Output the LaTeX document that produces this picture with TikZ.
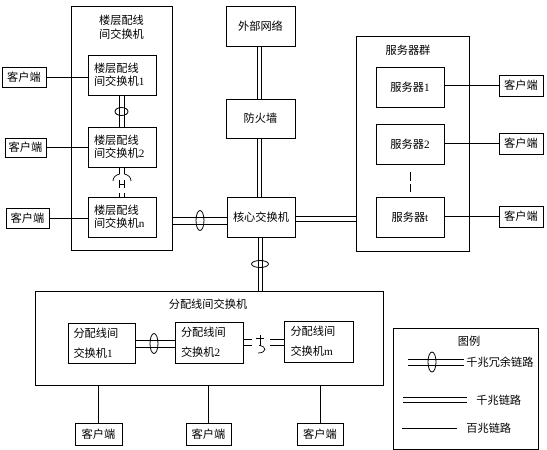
\documentclass[tikz,border=0pt]{standalone}
\usepackage{fontspec}
\setmainfont{Liberation Serif}
\newfontfamily\cjk{Noto Sans CJK SC}
\newcommand\lat[1]{\textrm{#1}}
\usetikzlibrary{shapes.geometric}
\newcommand\vdbl[3]{\draw ([xshift=-#3]#1) -- ([xshift=-#3]#2); \draw ([xshift=#3]#1) -- ([xshift=#3]#2);}
\newcommand\hdbl[3]{\draw ([yshift=-#3]#1) -- ([yshift=-#3]#2); \draw ([yshift=#3]#1) -- ([yshift=#3]#2);}
\tikzset{
  every path/.style={line width=0.7pt},
  box/.style={draw, line width=0.7pt, inner sep=0pt, font=\cjk\fontsize{11.2}{13}\selectfont},
  twoline/.style={box, align=left, text width=56pt},
  client/.style={box, minimum width=44pt, minimum height=20pt},
  label/.style={inner sep=0pt, font=\cjk\fontsize{11.2}{14}\selectfont, align=center},
  ell/.style={draw, ellipse, inner sep=0pt, line width=0.8pt},
}
\begin{document}
\begin{tikzpicture}[x=1pt,y=-1pt]
\useasboundingbox (0,0) rectangle (547,450);
% floor group
\node[box, minimum width=101pt, minimum height=244pt] (floor) at (121.5,128) {};
\node[label] (floort) at (121.5,27) {楼层配线\\间交换机};
\node[twoline, minimum width=68pt, minimum height=40pt] (f1) at (122,75) {楼层配线\\间交换机\lat{1}};
\node[twoline, minimum width=68pt, minimum height=40pt] (f2) at (122,147) {楼层配线\\间交换机\lat{2}};
\node[twoline, minimum width=68pt, minimum height=40pt] (fn) at (122,217) {楼层配线\\间交换机\lat{n}};
\node[client] (c1) at (24,77) {客户端};
\node[client, minimum width=41pt, minimum height=19pt] (c2) at (25.5,147.5) {客户端};
\node[client, minimum width=43pt] (c3) at (27.5,218) {客户端};
% center column
\node[box, minimum width=69pt, minimum height=40pt] (ext) at (260.5,26) {外部网络};
\node[box, minimum width=69pt, minimum height=39pt] (fw) at (260.5,118.5) {防火墙};
\node[box, minimum width=68pt, minimum height=40pt] (core) at (261,217) {核心交换机};
% server group
\node[box, minimum width=113pt, minimum height=215pt] (sg) at (412.5,143.5) {};
\node[label] (sgt) at (408,50) {服务器群};
\node[box, minimum width=68pt, minimum height=40pt] (s1) at (410,87) {服务器\lat{1}};
\node[box, minimum width=68pt, minimum height=40pt] (s2) at (410,144) {服务器\lat{2}};
\node[box, minimum width=68pt, minimum height=40pt] (st) at (410,217) {服务器\lat{t}};
\node[client, minimum height=21pt] (r1) at (521,85.5) {客户端};
\node[client, minimum height=21pt] (r2) at (521,143.5) {客户端};
\node[client, minimum height=21pt] (r3) at (521,216.5) {客户端};
% distribution group
\node[box, minimum width=348pt, minimum height=94pt] (dist) at (209,338) {};
\node[label] (distt) at (208,304) {分配线间交换机};
\node[twoline, font=\cjk\fontsize{11.2}{20}\selectfont, minimum width=67pt, minimum height=40pt] (d1) at (101.5,343) {分配线间\\交换机\lat{1}};
\node[twoline, font=\cjk\fontsize{11.2}{20}\selectfont, minimum width=68pt, minimum height=41pt] (d2) at (209,342.5) {分配线间\\交换机\lat{2}};
\node[twoline, font=\cjk\fontsize{11.2}{20}\selectfont, minimum width=69pt, minimum height=41pt] (dm) at (318.5,341.5) {分配线间\\交换机\lat{m}};
\node[client, minimum width=47pt, minimum height=22pt] (b1) at (98.5,434) {客户端};
\node[client, minimum width=45pt, minimum height=22pt] (b2) at (208.5,434) {客户端};
\node[client, minimum width=46pt, minimum height=22pt] (b3) at (320,434) {客户端};
% legend
\node[box, minimum width=145pt, minimum height=121pt] (leg) at (465.5,388.5) {};
\node[label] (legt) at (469,341) {图例};
\coordinate (l1a) at (408,362);
\coordinate (l1b) at (464,362);
\coordinate (l2a) at (403,399.5);
\coordinate (l2b) at (467,399.5);
\coordinate (l3a) at (402,428);
\coordinate (l3b) at (457,428);
\node[label, anchor=west] (lt1) at (466,362) {千兆冗余链路};
\node[label, anchor=west] (lt2) at (476,400) {千兆链路};
\node[label, anchor=west] (lt3) at (466,428) {百兆链路};

% ---- 100M links
\draw (c1.east) -- (f1.west |- c1.east);
\draw (c2.east) -- (f2.west |- c2.east);
\draw (c3.east) -- (fn.west |- c3.east);
\draw (s1.east |- r1.west) -- (r1.west);
\draw (s2.east |- r2.west) -- (r2.west);
\draw (st.east |- r3.west) -- (r3.west);
\draw (dist.south -| b1.north) -- (b1.north);
\draw (dist.south -| b2.north) -- (b2.north);
\draw (dist.south -| b3.north) -- (b3.north);
\draw (l3a) -- (l3b);
\draw[dash pattern=on 9pt off 3pt] ([yshift=-8pt]s2.south) -- ([yshift=5pt]st.north);

% ---- gigabit links (two parallel lines)
\coordinate (extS) at (259,46);
\coordinate (fwN) at (259,99);
\coordinate (fwS) at (259,138);
\coordinate (coreN) at (259,197);
\vdbl{extS}{fwN}{2pt}
\vdbl{fwS}{coreN}{2pt}
\coordinate (coreE) at (295,218.5);
\coordinate (sgW) at (356,218.5);
\hdbl{coreE}{sgW}{2.5pt}
\coordinate (f1S) at (121.5,95);
\coordinate (f2N) at (121.5,127);
\vdbl{f1S}{f2N}{2.5pt}
\coordinate (coreS) at (260,237);
\coordinate (distN) at (260,291);
\vdbl{coreS}{distN}{2pt}
\coordinate (floorE) at (172,220.5);
\coordinate (coreW) at (227,220.5);
\hdbl{floorE}{coreW}{3.5pt}
\coordinate (d1E) at (135,343.5);
\coordinate (d2W) at (175,343.5);
\hdbl{d1E}{d2W}{3.5pt}
\hdbl{l1a}{l1b}{3pt}
\hdbl{l2a}{l2b}{2.5pt}

% broken link between f2 and fn
\draw (119.5,167) -- (119.5,174) .. controls (116,175) and (113,177) .. (113,181);
\draw (124.5,167) -- (124.5,174) .. controls (128,175) and (131,177) .. (131,181);
\draw (119.5,180) -- (119.5,188) (124.5,180) -- (124.5,188) (119.5,184) -- (124.5,184);
\draw (119.5,193) -- (119.5,197);
\draw (124.5,193) -- (124.5,197);
% broken link between d2 and dm
\draw (243,339.5) -- (252,339.5) (243,345) -- (252,345);
\draw (256,338) -- (264,338) (260,335) -- (260,346);
\draw (259,345.5) .. controls (267,346) and (267,353) .. (258,353);
\draw (270,339.5) -- (284,339.5) (270,345) -- (284,345);

% redundancy ellipses
\node[ell, minimum width=13pt, minimum height=8pt] (e1) at (121.5,111.5) {};
\node[ell, minimum width=8pt, minimum height=20pt] (e2) at (200,220.5) {};
\node[ell, minimum width=17pt, minimum height=7pt] (e3) at (260,264) {};
\node[ell, minimum width=8pt, minimum height=20pt] (e4) at (154,343.5) {};
\node[ell, minimum width=8pt, minimum height=20pt] (e5) at (432,362) {};
\end{tikzpicture}
\end{document}
